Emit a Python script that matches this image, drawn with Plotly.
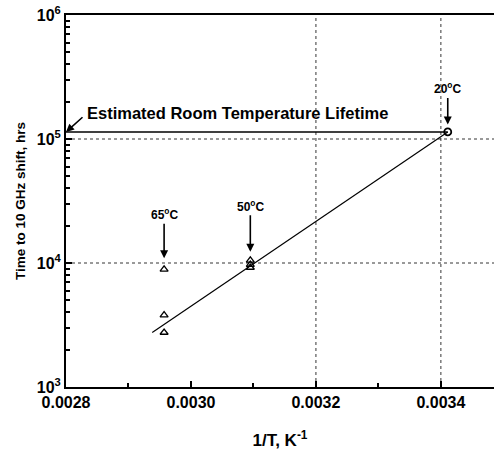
import math
import plotly.graph_objects as go

# data
inv_T_65 = [0.002957, 0.002957, 0.002957]
life_65 = [8900, 3800, 2750]
inv_T_50 = [0.003095, 0.003095, 0.003095]
life_50 = [10500, 9700, 9200]
inv_T_20 = [0.003411]
life_20 = [114000]
fit_x = [0.002938, 0.003411]
fit_y = [2750, 114000]
room_x = [0.0028, 0.003411]
room_y = [114000, 114000]
x_ticks = [0.0028, 0.0030, 0.0032, 0.0034]
x_tick_text = ["0.0028", "0.0030", "0.0032", "0.0034"]
y_ticks = [1e3, 1e4, 1e5, 1e6]
y_tick_text = ["10<sup>3</sup>", "10<sup>4</sup>", "10<sup>5</sup>", "10<sup>6</sup>"]

F = "Arial, Liberation Sans, sans-serif"
fig = go.Figure()
fig.add_trace(go.Scatter(x=fit_x, y=fit_y, mode="lines", line=dict(color="black", width=1.2), showlegend=False))
fig.add_trace(go.Scatter(x=room_x, y=room_y, mode="lines", line=dict(color="black", width=1.6), showlegend=False))
fig.add_trace(go.Scatter(x=inv_T_65 + inv_T_50, y=life_65 + life_50, mode="markers",
                         marker=dict(symbol="triangle-up-open", size=7, color="black", line=dict(width=1.3)), showlegend=False))
fig.add_trace(go.Scatter(x=inv_T_20, y=life_20, mode="markers",
                         marker=dict(symbol="circle-open", size=7, color="black", line=dict(width=1.8)), showlegend=False))

# grid lines (dotted)
for gx in [0.0032, 0.0034]:
    fig.add_shape(type="line", x0=gx, x1=gx, y0=0, y1=1, xref="x", yref="y domain",
                  line=dict(color="black", width=0.8, dash="dot"))
for gy in [1e4, 1e5]:
    fig.add_shape(type="line", x0=0, x1=1, y0=gy, y1=gy, xref="x domain", yref="y",
                  line=dict(color="black", width=0.8, dash="dot"))

ann = dict(showarrow=True, arrowhead=2, arrowsize=1, arrowwidth=1.6, arrowcolor="black",
           font=dict(family=F, size=12, color="black"), xref="x", yref="y")
fig.add_annotation(x=inv_T_65[0], y=math.log10(10900), ax=0, ay=-44, text="<b>65<sup>o</sup>C</b>", **ann)
fig.add_annotation(x=inv_T_50[0], y=math.log10(12300), ax=0, ay=-46, text="<b>50<sup>o</sup>C</b>", **ann)
fig.add_annotation(x=inv_T_20[0], y=math.log10(131000), ax=0, ay=-36, text="<b>20<sup>o</sup>C</b>", **ann)
fig.add_annotation(x=0.0028, y=math.log10(114000), ax=18, ay=-16, text="", **ann)
fig.add_annotation(x=0.00283, y=math.log10(162000), text="<b>Estimated Room Temperature Lifetime</b>",
                   showarrow=False, xanchor="left", yanchor="middle", xref="x", yref="y",
                   font=dict(family=F, size=16.5, color="black"))

fig.update_xaxes(range=[0.0028, 0.003485], tickvals=x_ticks, ticktext=["<b>" + t + "</b>" for t in x_tick_text],
                 ticks="inside", ticklen=6, tickwidth=1.5, tickcolor="black",
                 minor=dict(ticks="inside", ticklen=4, dtick=0.0001, tickcolor="black"),
                 showline=True, linewidth=2, linecolor="black", mirror=True, showgrid=False, zeroline=False,
                 tickfont=dict(family=F, size=16, color="black"),
                 title=dict(text="<b>1/T, K<sup>-1</sup></b>", font=dict(family=F, size=17, color="black"), standoff=24))
fig.update_yaxes(type="log", range=[3, 6], tickvals=y_ticks, ticktext=["<b>" + t + "</b>" for t in y_tick_text],
                 ticks="inside", ticklen=6, tickwidth=1.5, tickcolor="black",
                 minor=dict(ticks="inside", ticklen=4, dtick="D1", tickcolor="black"),
                 showline=True, linewidth=2, linecolor="black", showgrid=False, zeroline=False,
                 tickfont=dict(family=F, size=16, color="black"),
                 title=dict(text="<b>Time to 10 GHz shift, hrs</b>", font=dict(family=F, size=13.5, color="black"), standoff=8))

fig.update_layout(width=494, height=455, margin=dict(l=66, r=0, t=15, b=68),
                  plot_bgcolor="white", paper_bgcolor="white")
fig.write_html("out.html")
